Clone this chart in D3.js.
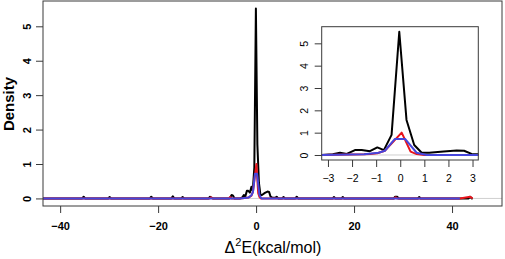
<!DOCTYPE html>
<html><head><meta charset="utf-8">
<script src="https://cdn.jsdelivr.net/npm/d3@7"></script>
<style>body{margin:0;background:#fff}svg{display:block;font-family:"Liberation Sans",Arial,sans-serif}</style>
</head><body><svg id="c" width="505" height="259"></svg>
<script>
// ---- data ----
const mainXTicks = [-40, -20, 0, 20, 40];
const mainYTicks = [0, 1, 2, 3, 4, 5];
const insetXTicks = [-3, -2, -1, 0, 1, 2, 3];
const insetYTicks = [0, 1, 2, 3, 4, 5];

const blackX = [-45,-35.5,-35.2,-34.9,-30.2,-29.9,-29.6,-21.7,-21.4,-21.1,-17.3,-17.0,-16.7,-15.3,-15.0,-14.7,-9.7,-9.4,-9.1,-8.8,-5.4,-5.0,-4.7,-4.4,-3.26,-2.8,-2.5,-2.22,-1.88,-1.6,-1.26,-0.95,-0.68,-0.36,-0.04,0.26,0.58,0.89,1.2,1.8,2.34,2.65,2.96,3.25,3.6,3.9,4.2,4.5,5.3,5.6,5.9,8.0,8.3,8.6,15.6,15.9,16.2,17.4,17.7,18.0,28.1,28.4,28.8,29.1,33.0,33.3,33.6,43.4,43.7,44.0,44.2];
const blackY = [0,0,0.05,0,0,0.04,0,0,0.05,0,0,0.06,0,0,0.04,0,0,0.05,0.02,0,0,0.1,0.08,0,0.0,0.03,0.1,0.05,0.22,0.22,0.17,0.34,0.22,0.9,5.52,1.57,0.45,0.1,0.1,0.16,0.2,0.19,0.05,0.03,0.02,0.02,0.05,0,0,0.04,0,0,0.05,0,0,0.04,0,0,0.04,0,0,0.05,0.05,0,0,0.04,0,0,0.05,0,0];

const redX = [-45,-9.5,-9.2,-8.9,-5.6,-5.3,-5.0,-3.26,-1.5,-1.25,-0.95,-0.64,0.06,0.43,0.68,1.0,28.2,28.5,28.8,41.6,42.5,43.7,44.2];
const redY = [0,0,0.03,0,0,0.04,0,0,0.03,0.05,0.08,0.19,1.0,0.15,0.04,0,0,0.03,0,0,0.02,0.05,0];

const blueX = [-45,-3.26,-1.5,-0.9,-0.64,-0.22,0.2,0.68,1.1,41.6];
const blueY = [0,0,0.03,0.1,0.19,0.72,0.72,0.1,0,0];

const series = [
  {name:"black", color:"#000000", x:blackX, y:blackY},
  {name:"red", color:"#e8141c", x:redX, y:redY},
  {name:"blue", color:"#4646dc", x:blueX, y:blueY}
];

// ---- drawing ----
const svg = d3.select("#c");
const fmt = d => d < 0 ? "\u2212" + Math.abs(d) : String(d);

function panel(id, box, xDom, yDom, xTicks, yTicks, opt) {
  const x = d3.scaleLinear().domain(xDom).range([box.l, box.r]);
  const y = d3.scaleLinear().domain(yDom).range([box.b, box.t]);
  const g = svg.append("g");
  g.append("rect").attr("x", box.l).attr("y", box.t).attr("width", box.r - box.l).attr("height", box.b - box.t).attr("fill", "#fff");
  svg.append("clipPath").attr("id", id).append("rect")
    .attr("x", box.l).attr("y", box.t).attr("width", box.r - box.l).attr("height", box.b - box.t);
  const pg = g.append("g").attr("clip-path", `url(#${id})`);
  pg.append("line").attr("x1", box.l).attr("x2", box.r).attr("y1", y(0)).attr("y2", y(0))
    .attr("stroke", "#cfcfcf").attr("stroke-width", 1);
  const line = d3.line().x(d => x(d[0])).y(d => y(d[1]));
  series.forEach(s => {
    const pts = s.x.map((v, i) => [v, s.y[i]]);
    pg.append("path").attr("d", line(pts)).attr("fill", "none").attr("stroke", s.color)
      .attr("stroke-width", opt.lw).attr("stroke-linejoin", "round");
  });
  g.append("rect").attr("x", box.l).attr("y", box.t).attr("width", box.r - box.l).attr("height", box.b - box.t)
    .attr("fill", "none").attr("stroke", "#3a3a3a").attr("stroke-width", 1);
  // x axis
  const xa = d3.axisBottom(x).tickValues(xTicks).tickSize(opt.tick).tickPadding(opt.xpad).tickFormat(fmt);
  const gx = g.append("g").attr("transform", `translate(0,${box.b})`).call(xa);
  gx.select(".domain").remove();
  gx.selectAll("line").attr("stroke", "#3a3a3a");
  gx.selectAll("text").attr("font-size", opt.fs).attr("font-weight", opt.fw).attr("fill", "#000")
    .attr("font-family", '"Liberation Sans",Arial,sans-serif');
  // y axis
  const ya = d3.axisLeft(y).tickValues(yTicks).tickSize(opt.tick).tickPadding(0).tickFormat(fmt);
  const gy = g.append("g").attr("transform", `translate(${box.l},0)`).call(ya);
  gy.select(".domain").remove();
  gy.selectAll("line").attr("stroke", "#3a3a3a");
  gy.selectAll("text").attr("font-size", opt.fs).attr("font-weight", opt.fw).attr("fill", "#000")
    .attr("font-family", '"Liberation Sans",Arial,sans-serif')
    .attr("x", null).attr("dy", null).attr("text-anchor", "middle")
    .attr("transform", `translate(${-opt.ypad},0) rotate(-90)`);
  return {x, y};
}

panel("clipMain", {l:43, r:502, t:1, b:206}, [-43.5, 50.2], [-0.22, 5.735], mainXTicks, mainYTicks,
  {lw:2, tick:7, xpad:9, ypad:12.5, fs:11, fw:"bold"});
panel("clipInset", {l:321.7, r:478.3, t:26.7, b:160}, [-3.26, 3.24], [-0.224, 5.745], insetXTicks, insetYTicks,
  {lw:2, tick:7, xpad:8, ypad:14, fs:10.5, fw:"normal"});

// axis titles
svg.append("text").attr("transform", "translate(13.5,104) rotate(-90)").attr("text-anchor", "middle")
  .attr("font-size", 15).attr("font-weight", "bold").text("Density");
const xt = svg.append("text").attr("x", 273).attr("y", 253).attr("text-anchor", "middle").attr("font-size", 16);
xt.append("tspan").text("\u0394");
xt.append("tspan").attr("font-size", 11).attr("dy", -7).text("2");
xt.append("tspan").attr("dy", 7).text("E(kcal/mol)");
</script></body></html>
